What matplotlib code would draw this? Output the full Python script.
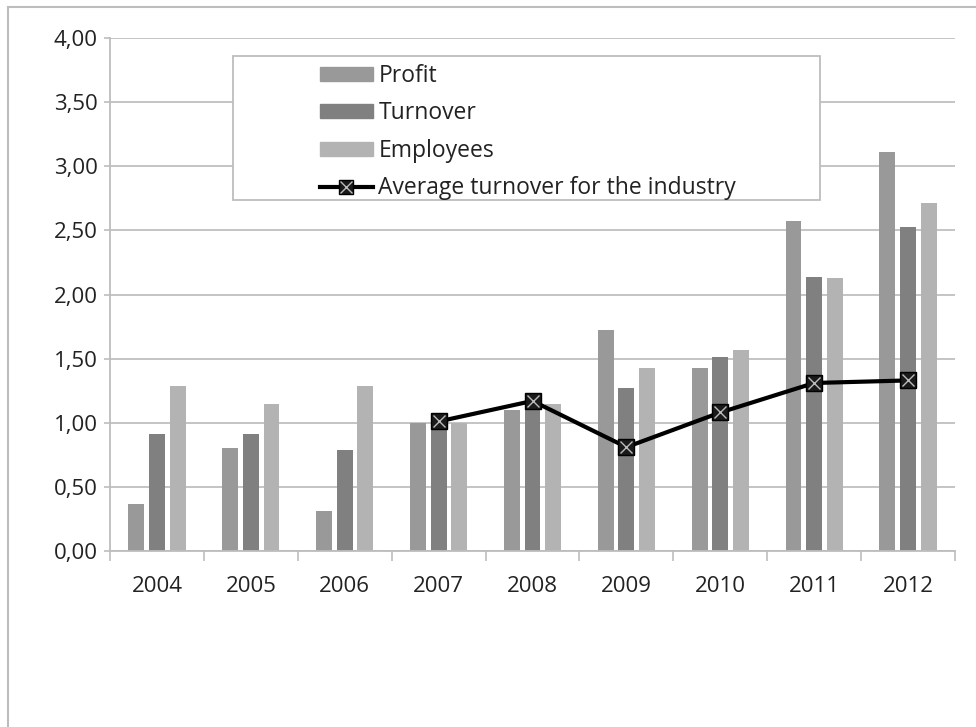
import matplotlib
matplotlib.use("Agg")
import matplotlib.pyplot as plt
import numpy as np
from matplotlib.ticker import FuncFormatter, FixedLocator
from matplotlib.patches import Rectangle, Patch
from matplotlib.lines import Line2D

years = ["2004", "2005", "2006", "2007", "2008", "2009", "2010", "2011", "2012"]
profit = [0.37, 0.80, 0.31, 1.00, 1.10, 1.72, 1.43, 2.57, 3.11]
turnover = [0.91, 0.91, 0.79, 1.00, 1.17, 1.27, 1.51, 2.14, 2.53]
employees = [1.29, 1.15, 1.29, 1.00, 1.15, 1.43, 1.57, 2.13, 2.71]
avg_years = ["2007", "2008", "2009", "2010", "2011", "2012"]
avg_turnover = [1.01, 1.17, 0.81, 1.08, 1.31, 1.33]

plt.rcParams['font.family'] = ['Open Sans', 'DejaVu Sans']

W, H = 976, 727
fig = plt.figure(figsize=(W/100, H/100), dpi=100)
# outer frame (top and left edges visible)
fig.add_artist(Line2D([8/W, 1], [1-7/H, 1-7/H], transform=fig.transFigure, color='#bdbdbd', lw=1.5))
fig.add_artist(Line2D([8/W, 8/W], [0, 1-7/H], transform=fig.transFigure, color='#bdbdbd', lw=1.5))

L, R, T, B = 110, 955, 38, 551
ax = fig.add_axes([L/W, 1-B/H, (R-L)/W, (B-T)/H])
x = np.arange(len(years))
bw = 0.17
off = 0.22
c_p, c_t, c_e = '#999999', '#808080', '#b3b3b3'
ax.bar(x - off, profit, bw, color=c_p, zorder=2)
ax.bar(x, turnover, bw, color=c_t, zorder=2)
ax.bar(x + off, employees, bw, color=c_e, zorder=2)
xa = [years.index(y) for y in avg_years]
ax.plot(xa, avg_turnover, color='black', lw=3, zorder=3)
ax.plot(xa, avg_turnover, ls='none', marker='s', markersize=11, markerfacecolor='#1a1a1a',
        markeredgecolor='black', zorder=3)
ax.plot(xa, avg_turnover, ls='none', marker='x', markersize=9, markeredgecolor='#bbbbbb',
        markeredgewidth=1, zorder=4)

ax.set_xlim(-0.5, len(years) - 0.5)
ax.set_ylim(0, 4.0)
ax.set_yticks(np.arange(0, 4.01, 0.5))
ax.yaxis.set_major_formatter(FuncFormatter(lambda v, p: f"{v:.2f}".replace('.', ',')))
ax.set_xticks(x)
ax.set_xticklabels(years)
ax.xaxis.set_minor_locator(FixedLocator(np.arange(-0.5, len(years), 1.0)))
ax.tick_params(axis='x', which='major', length=0, pad=18, labelsize=16, labelcolor='#222222')
ax.tick_params(axis='x', which='minor', length=7, color='#bdbdbd', width=1.2)
ax.tick_params(axis='y', length=4, color='#bdbdbd', width=1.2, labelsize=16, pad=5, labelcolor='#222222')
ax.grid(axis='y', color='#bfbfbf', lw=1.3, zorder=0)
ax.set_axisbelow(True)
for s in ['top', 'right']:
    ax.spines[s].set_visible(False)
for s in ['left', 'bottom']:
    ax.spines[s].set_color('#bdbdbd')
    ax.spines[s].set_linewidth(1.3)

# legend box
ax.add_patch(Rectangle(((233-L)/(R-L), 1-(200-T)/(B-T)), (820-233)/(R-L), (200-56)/(B-T),
                       transform=ax.transAxes, facecolor='white', edgecolor='#bdbdbd', lw=1.3,
                       zorder=5, clip_on=False))
handles = [Patch(color=c_p), Patch(color=c_t), Patch(color=c_e),
           (Line2D([], [], color='black', lw=3),
            Line2D([], [], ls='none', marker='s', markersize=10, markerfacecolor='#1a1a1a', markeredgecolor='black'),
            Line2D([], [], ls='none', marker='x', markersize=8, markeredgecolor='#bbbbbb'))]
labels = ['Profit', 'Turnover', 'Employees', 'Average turnover for the industry']
leg = ax.legend(handles, labels, loc='upper left',
                bbox_to_anchor=((320-L)/(R-L), 1-(64-T)/(B-T)),
                bbox_transform=ax.transAxes, frameon=False, fontsize=16.5,
                handlelength=2.3, handleheight=0.55, handletextpad=0.25, borderpad=0,
                labelspacing=0.585, borderaxespad=0)
leg.set_zorder(6)
for t in leg.get_texts():
    t.set_color('#222222')

fig.savefig('out.png', dpi=100)
